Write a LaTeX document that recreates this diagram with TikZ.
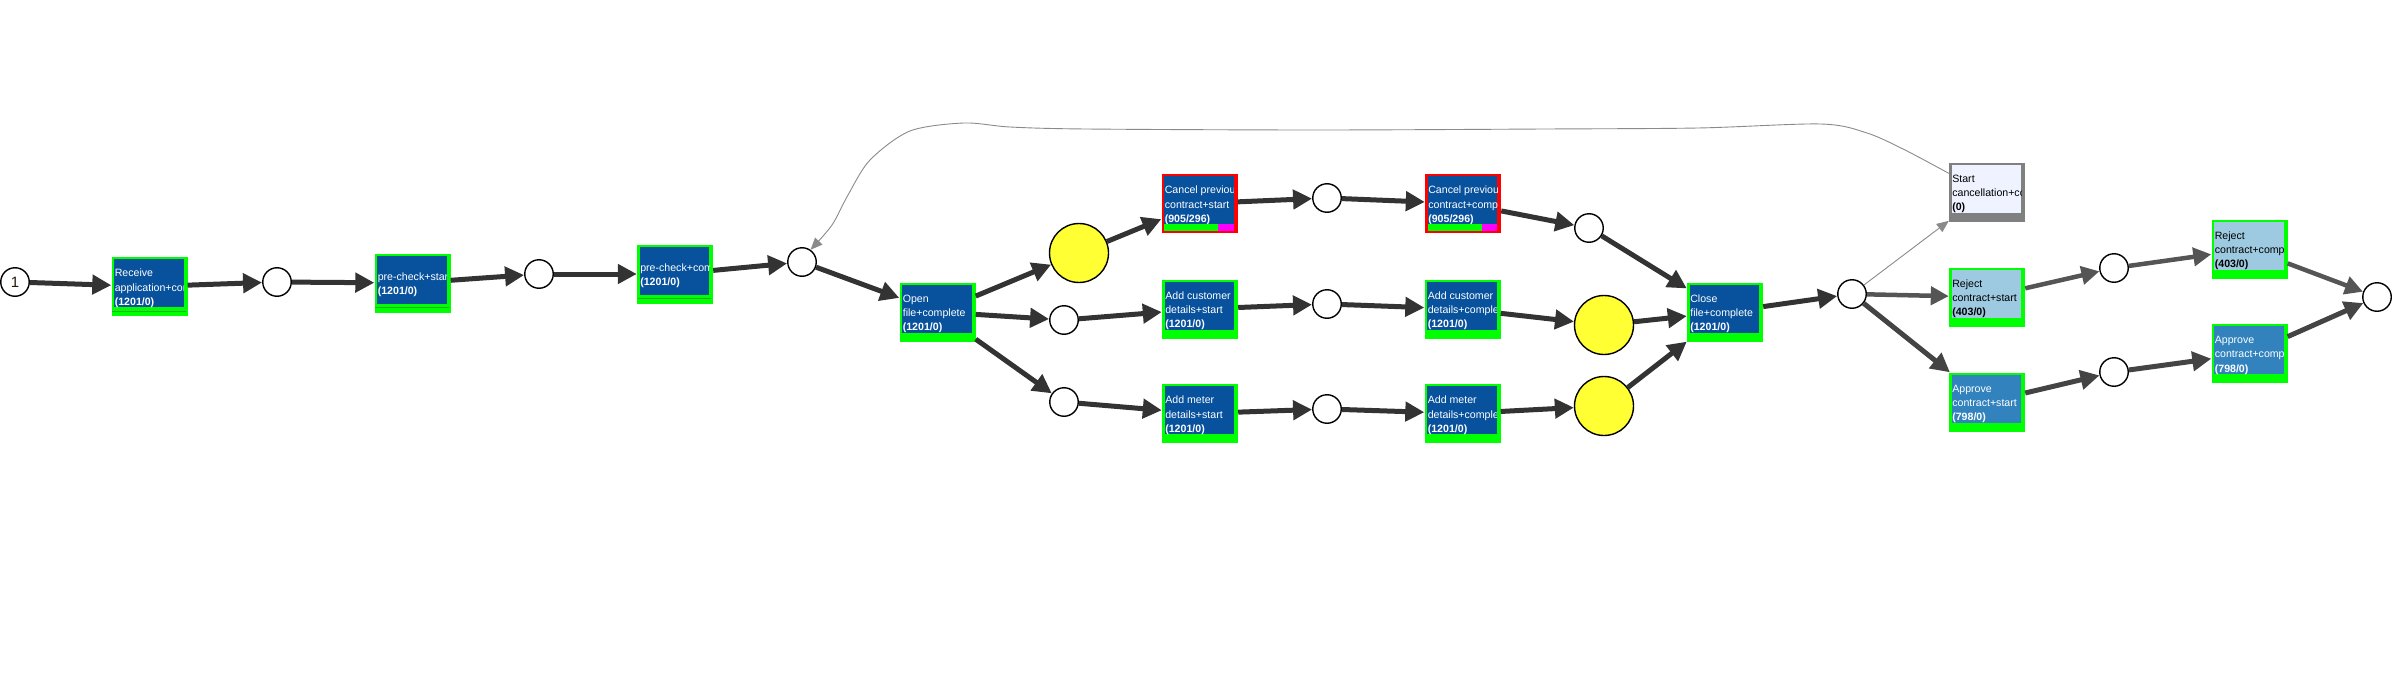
\documentclass[tikz,border=0pt]{standalone}
\usepackage{fontspec}
\setmainfont{Liberation Sans}
\usetikzlibrary{arrows.meta}
\definecolor{pgreen}{HTML}{00FF00}
\definecolor{pgline}{HTML}{22B022}
\definecolor{pblue}{HTML}{08519C}
\definecolor{pmed}{HTML}{3182BD}
\definecolor{plight}{HTML}{9ECAE1}
\definecolor{plightest}{HTML}{EFF3FF}
\definecolor{pred}{HTML}{FF0000}
\definecolor{pmag}{HTML}{FF00FF}
\definecolor{pgray}{HTML}{808080}
\definecolor{pyel}{HTML}{FFFF33}
\definecolor{adark}{HTML}{333333}
\definecolor{amid}{HTML}{555555}
\definecolor{amidb}{HTML}{444444}
\definecolor{athin}{HTML}{8A8A8A}
\tikzset{
  place/.style={circle, draw=black, line width=1.4pt, fill=white, minimum size=28.5pt, inner sep=0pt},
  yplace/.style={place, fill=pyel, minimum size=59pt},
  tbox/.style={rectangle, minimum width=76pt, minimum height=59pt, inner sep=0pt, draw=none},
  lbl/.style={anchor=west, inner sep=0pt, align=left, font=\fontsize{10.6}{14.2}\selectfont},
  arc/.style={draw=adark, line width=5pt, -{Triangle[length=19pt,width=19pt]}},
  arcr/.style={draw=amid, line width=4.5pt, -{Triangle[length=18pt,width=18pt]}},
  arca/.style={draw=amidb, line width=5pt, -{Triangle[length=19pt,width=19pt]}},
  arcthin/.style={draw=athin, line width=0.9pt, -{Triangle[length=12pt,width=10pt]}},
}
% #1 name, #2 position, #3 border colour, #4 inner colour, #5 text colour, #6 text
\newcommand{\trbox}[6]{%
  \node[tbox, fill=#3] (#1) at #2 {};
  \fill[#4] ([xshift=3pt,yshift=-2.5pt]#1.north west) rectangle ([xshift=-4pt,yshift=9pt]#1.south east);
  \begin{scope}
    \clip ([xshift=3pt,yshift=-2.5pt]#1.north west) rectangle ([xshift=-4pt,yshift=9pt]#1.south east);
    \node[lbl, text=#5] (#1-t) at ([xshift=3.3pt,yshift=-1.8pt]#1.west) {#6};
  \end{scope}
}
\newcommand{\trgline}[1]{%
  \draw[pgline, line width=0.8pt] ([xshift=1pt,yshift=5pt]#1.south west) -- ([xshift=-2pt,yshift=5pt]#1.south east);
}
\newcommand{\trbar}[1]{%
  \fill[pgreen] ([xshift=3pt,yshift=2.5pt]#1.south west) rectangle ([xshift=57pt,yshift=9pt]#1.south west);
  \fill[pmag] ([xshift=57pt,yshift=2.5pt]#1.south west) rectangle ([xshift=-4pt,yshift=9pt]#1.south east);
}
\begin{document}
\begin{tikzpicture}[x=1pt,y=-1pt]
\useasboundingbox (0,0) rectangle (2393,698);

% places
\node[place, font=\fontsize{15}{15}\selectfont, text={rgb,255:red,40;green,24;blue,10}] (start) at (15,282) {1};
\node[place] (p1) at (277,282) {};
\node[place] (p2) at (539,274) {};
\node[place] (p3) at (802,262) {};
\node[yplace] (y1) at (1079,253) {};
\node[place] (pm) at (1064,320) {};
\node[place] (pb) at (1064,402) {};
\node[place] (pc1) at (1327,198) {};
\node[place] (pc2) at (1589,228) {};
\node[place] (pcu) at (1327,304) {};
\node[yplace] (y2) at (1604,325) {};
\node[place] (pme) at (1327,409) {};
\node[yplace] (y3) at (1604,406) {};
\node[place] (pcl) at (1852,294) {};
\node[place] (pr) at (2114,268) {};
\node[place] (pa) at (2114,372) {};
\node[place] (end) at (2377,297) {};

% transitions
\trbox{receive}{(149.5,286.5)}{pgreen}{pblue}{white}{Receive\\application+com\\\bfseries (1201/0)}
\trgline{receive}
\trbox{pcs}{(412.5,283)}{pgreen}{pblue}{white}{pre-check+star\\\bfseries (1201/0)}
\trgline{pcs}
\trbox{pcc}{(675,274)}{pgreen}{pblue}{white}{pre-check+com\\\bfseries (1201/0)}
\trgline{pcc}
\trbox{open}{(937.5,312)}{pgreen}{pblue}{white}{Open\\file+complete\\\bfseries (1201/0)}
\trbox{cps}{(1199.5,203.5)}{pred}{pblue}{white}{Cancel previous\\contract+start\\\bfseries (905/296)}
\trbar{cps}
\trbox{cpc}{(1463,203.5)}{pred}{pblue}{white}{Cancel previous\\contract+comp\\\bfseries (905/296)}
\trbar{cpc}
\trbox{acs}{(1200,309)}{pgreen}{pblue}{white}{Add customer\\details+start\\\bfseries (1201/0)}
\trbox{acc}{(1462.5,309)}{pgreen}{pblue}{white}{Add customer\\details+complet\\\bfseries (1201/0)}
\trbox{ams}{(1200,413.5)}{pgreen}{pblue}{white}{Add meter\\details+start\\\bfseries (1201/0)}
\trbox{amc}{(1462.5,413.5)}{pgreen}{pblue}{white}{Add meter\\details+complet\\\bfseries (1201/0)}
\trbox{close}{(1725,312)}{pgreen}{pblue}{white}{Close\\file+complete\\\bfseries (1201/0)}
\trbox{stc}{(1987,192)}{pgray}{plightest}{black}{Start\\cancellation+com\\\bfseries (0)}
\trbox{rjs}{(1987,297)}{pgreen}{plight}{black}{Reject\\contract+start\\\bfseries (403/0)}
\trbox{aps}{(1987,402)}{pgreen}{pmed}{white}{Approve\\contract+start\\\bfseries (798/0)}
\trbox{rjc}{(2249.5,249)}{pgreen}{plight}{black}{Reject\\contract+comple\\\bfseries (403/0)}
\trbox{apc}{(2249.5,353.5)}{pgreen}{pmed}{white}{Approve\\contract+comple\\\bfseries (798/0)}

% arcs
\draw[arc] (start) -- (receive);
\draw[arc] (receive) -- (p1);
\draw[arc] (p1) -- (pcs);
\draw[arc] (pcs) -- (p2);
\draw[arc] (p2) -- (pcc);
\draw[arc] (pcc) -- (p3);
\draw[arc] (p3) -- (open);
\draw[arc] (open) -- (y1);
\draw[arc] (open) -- (pm);
\draw[arc] (open) -- (pb);
\draw[arc] (y1) -- (cps);
\draw[arc] (cps) -- (pc1);
\draw[arc] (pc1) -- (cpc);
\draw[arc] (cpc) -- (pc2);
\draw[arc] (pc2) -- (close);
\draw[arc] (pm) -- (acs);
\draw[arc] (acs) -- (pcu);
\draw[arc] (pcu) -- (acc);
\draw[arc] (acc) -- (y2);
\draw[arc] (y2) -- (close);
\draw[arc] (pb) -- (ams);
\draw[arc] (ams) -- (pme);
\draw[arc] (pme) -- (amc);
\draw[arc] (amc) -- (y3);
\draw[arc] (y3) -- (close);
\draw[arc] (close) -- (pcl);
\draw[arcthin] (pcl) -- (stc);
\draw[arcr] (pcl) -- (rjs);
\draw[arca] (pcl) -- (aps);
\draw[arcr] (rjs) -- (pr);
\draw[arcr] (pr) -- (rjc);
\draw[arcr] (rjc) -- (end);
\draw[arca] (aps) -- (pa);
\draw[arca] (pa) -- (apc);
\draw[arca] (apc) -- (end);
\draw[arcthin] plot[smooth, tension=0.5] coordinates {(stc.154) (1905,150) (1867,133) (1821,124) (1698,128) (1545,129) (1316,130) (1086,129) (1010,127) (964,123) (910,131) (870,160) (848,195) (832,225) (p3.55)};
\end{tikzpicture}
\end{document}
